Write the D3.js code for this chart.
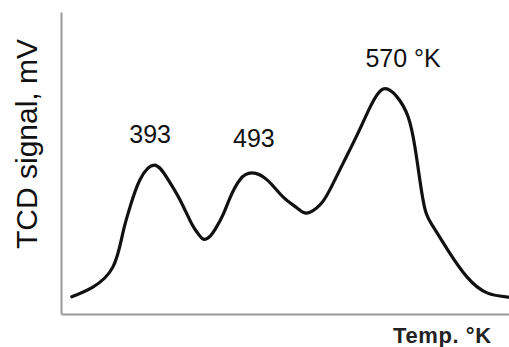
<!DOCTYPE html>
<html>
<head>
<meta charset="utf-8">
<script src="https://cdn.jsdelivr.net/npm/d3@7"></script>
<style>
  html, body { margin: 0; padding: 0; background: #fff; }
  svg { display: block; }
</style>
</head>
<body>
<svg id="chart" width="509" height="347"></svg>
<script>
// Relative position along the temperature axis (0-100) and relative TCD signal (0-100)
const temps = [2.4, 7.1, 11.6, 13.8, 15.4, 17.6, 20.8, 23.7, 26.6, 29.2, 30.8, 31.9, 33.3, 34.6, 36.2, 37.7, 39.9, 42.6, 46.0, 49.6, 52.7, 54.9, 57.8, 60.0, 62.9, 66.1, 69.0, 71.9, 75.0, 77.5, 79.0, 80.1, 81.3, 83.0, 86.2, 90.6, 95.1, 99.8];
const signal = [5.7, 8.9, 15.6, 26.8, 35.4, 44.4, 49.3, 45.0, 37.7, 29.8, 26.2, 24.7, 25.8, 28.5, 33.0, 38.4, 44.4, 46.7, 44.4, 38.7, 35.1, 33.4, 36.1, 41.1, 49.7, 59.3, 68.5, 74.5, 71.9, 65.2, 55.3, 44.4, 34.4, 29.1, 21.5, 12.3, 7.0, 5.6];
const peakLabels = ["393", "493", "570 °K"];
const peakIndex = [6, 17, 27];
const xTitle = "Temp. °K";
const yTitle = "TCD signal, mV";

const svg = d3.select("#chart");
const x = d3.scaleLinear().domain([0, 100]).range([61, 509]);
const y = d3.scaleLinear().domain([0, 100]).range([314, 12]);

const axisColor = "#9a9a9a";
const gx = svg.append("g").attr("transform", `translate(0,${y(0)})`)
  .call(d3.axisBottom(x).tickValues([]).tickSizeOuter(0));
const gy = svg.append("g").attr("transform", `translate(${x(0)},0)`)
  .call(d3.axisLeft(y).tickValues([]).tickSizeOuter(0));
[gx, gy].forEach(g => g.select(".domain").attr("stroke", axisColor).attr("stroke-width", 2));

const data = temps.map((t, i) => [t, signal[i]]);
const line = d3.line().x(d => x(d[0])).y(d => y(d[1])).curve(d3.curveNatural);
svg.append("path").datum(data).attr("d", line)
  .attr("fill", "none").attr("stroke", "#111").attr("stroke-width", 3.2)
  .attr("stroke-linejoin", "round").attr("stroke-linecap", "round");

const font = "Liberation Sans, Arial, sans-serif";
// peak labels
const labelOffsets = [[-4, -22], [2, -26], [20, -22]];
peakIndex.forEach((pi, k) => {
  svg.append("text")
    .attr("x", x(temps[pi]) + labelOffsets[k][0])
    .attr("y", y(signal[pi]) + labelOffsets[k][1])
    .attr("text-anchor", "middle")
    .attr("font-family", font).attr("font-size", 25)
    .attr("fill", "#111")
    .text(peakLabels[k]);
});

svg.append("text")
  .attr("x", 393).attr("y", 343)
  .attr("font-family", font).attr("font-size", 22).attr("font-weight", "bold")
  .attr("letter-spacing", 0.6)
  .attr("fill", "#222")
  .text(xTitle);

svg.append("text")
  .attr("transform", "translate(37,144) rotate(-90)")
  .attr("text-anchor", "middle")
  .attr("font-family", font).attr("font-size", 30)
  .attr("fill", "#111")
  .text(yTitle);
</script>
</body>
</html>
